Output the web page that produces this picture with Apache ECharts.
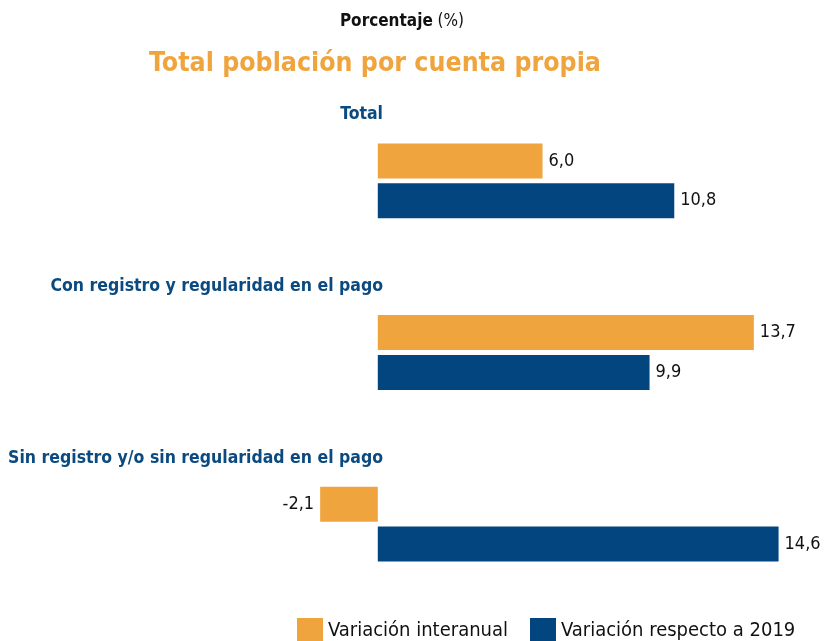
<!DOCTYPE html>
<html>
<head>
<meta charset="utf-8">
<script src="https://cdn.jsdelivr.net/npm/echarts@6/dist/echarts.min.js"></script>
<style>
  html, body { margin: 0; padding: 0; background: #fff; }
  #main { width: 831px; height: 641px; }
</style>
</head>
<body>
<div id="main"></div>
<script>
var categories = ['Total', 'Con registro y regularidad en el pago', 'Sin registro y/o sin regularidad en el pago'];
var interanual = [6.0, 13.7, -2.1];
var respecto2019 = [10.8, 9.9, 14.6];
var seriesNames = ['Variación interanual', 'Variación respecto a 2019'];

var FONT = '"DejaVu Sans Condensed", "Liberation Sans Narrow", sans-serif';
var ORANGE = '#f0a43d';
var BLUE = '#03467f';

function fmt(p) {
    return p.value.toFixed(1).replace('.', ',');
}

function withLabelSide(arr) {
    return arr.map(function (v) {
        return v < 0 ? { value: v, label: { position: 'left' } } : v;
    });
}

var chartDom = document.getElementById('main');
var myChart = echarts.init(chartDom);
var option;

option = {
    animation: false,
    textStyle: { fontFamily: FONT },
    title: [
        {
            text: '{b|Porcentaje} (%)',
            left: 397,
            textAlign: 'center',
            top: 8,
            textStyle: {
                fontFamily: FONT,
                fontSize: 17,
                fontWeight: 'normal',
                color: '#111',
                rich: { b: { fontFamily: FONT, fontSize: 17, fontWeight: 'bold', color: '#111' } }
            }
        },
        {
            text: 'Total población por cuenta propia',
            left: 370,
            textAlign: 'center',
            top: 46,
            textStyle: { fontFamily: FONT, fontSize: 26.5, fontWeight: 'bold', color: ORANGE }
        }
    ],
    legend: {
        top: 613,
        left: 292,
        itemWidth: 26,
        itemHeight: 26,
        itemGap: 22,
        icon: 'rect',
        textStyle: { fontFamily: FONT, fontSize: 20, color: '#111' },
        data: seriesNames
    },
    grid: {
        left: 268,
        right: 14,
        top: 95,
        bottom: 31,
        containLabel: false,
        outerBoundsMode: 'none'
    },
    xAxis: {
        type: 'value',
        min: -4,
        max: 16,
        show: false
    },
    yAxis: {
        type: 'category',
        inverse: true,
        data: categories,
        axisLine: { show: false },
        axisTick: { show: false },
        axisLabel: {
            // labels sit just right of the zero line, above each pair of bars
            margin: -115,
            align: 'right',
            verticalAlign: 'bottom',
            padding: [0, 0, 57, 0],
            fontFamily: FONT,
            fontSize: 17.5,
            fontWeight: 'bold',
            color: '#0b4a80'
        }
    },
    series: [
        {
            name: seriesNames[0],
            type: 'bar',
            barWidth: 35,
            barGap: '14%',
            itemStyle: { color: ORANGE },
            label: { show: true, position: 'right', distance: 6, formatter: fmt, fontFamily: FONT, fontSize: 18, color: '#111' },
            data: withLabelSide(interanual)
        },
        {
            name: seriesNames[1],
            type: 'bar',
            barWidth: 35,
            itemStyle: { color: BLUE },
            label: { show: true, position: 'right', distance: 6, formatter: fmt, fontFamily: FONT, fontSize: 18, color: '#111' },
            data: withLabelSide(respecto2019)
        }
    ]
};

option && myChart.setOption(option);
</script>
</body>
</html>
